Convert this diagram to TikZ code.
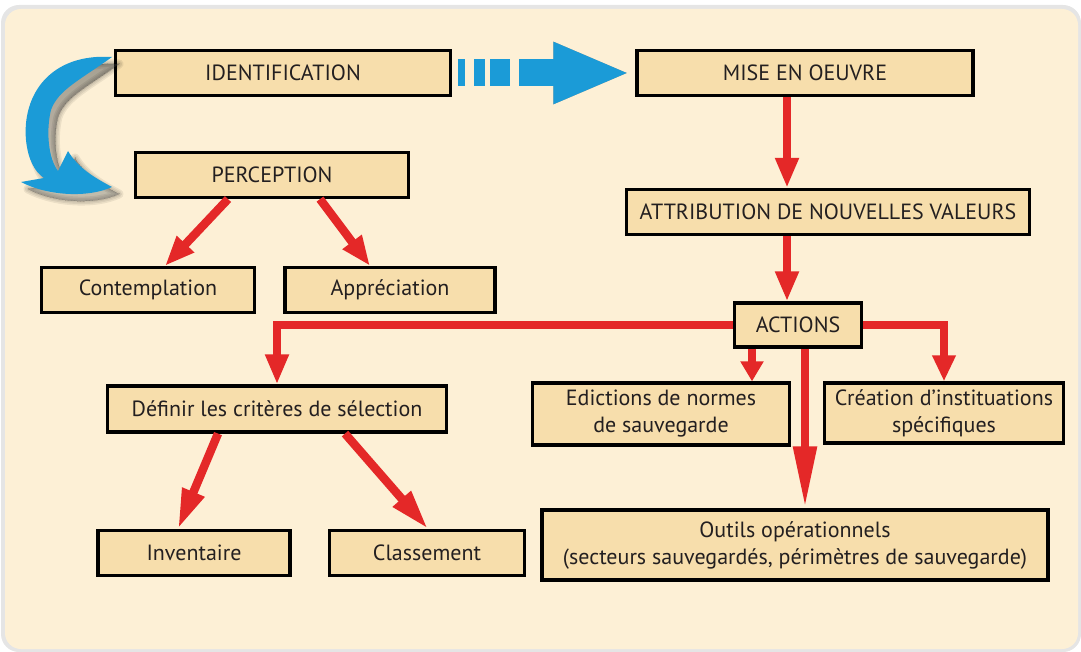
\documentclass[tikz,border=0pt]{standalone}
\usepackage{fontspec}
\setmainfont{PT Sans}
\usetikzlibrary{arrows.meta,positioning}
\definecolor{panel}{RGB}{253,240,214}
\definecolor{boxfill}{RGB}{247,222,172}
\definecolor{arrred}{RGB}{228,40,40}
\definecolor{arrblue}{RGB}{27,155,215}
\definecolor{shade}{RGB}{70,45,25}
\definecolor{txt}{RGB}{35,31,32}
\newcommand{\crescentpath}{(112,57) .. controls (50,53) and (22,95) .. (26,140) .. controls (28,160) and (35,172) .. (44,178) -- (21,182) .. controls (48,196) and (88,198) .. (112,187) .. controls (95,178) and (78,168) .. (68,151) -- (58,171) .. controls (48,158) and (46,130) .. (51,110) .. controls (58,90) and (80,80) .. (112,57) -- cycle}

\begin{document}
\begin{tikzpicture}[x=1pt, y=-1pt,
    box/.style={draw=black, line width=3.2pt, fill=boxfill, text=txt, minimum height=45pt, inner sep=0pt, align=center, font=\fontsize{22}{27}\selectfont},
    redarr/.style={draw=arrred, line width=8.5pt, -{Triangle[length=#1, width=22pt]}},
    redarr/.default=30pt,
    bluedash/.style={draw=arrblue, line width=27pt, dash pattern=on 7pt off 9pt on 11pt off 5pt on 20pt off 9pt on 200pt off 0pt, -{Triangle[length=77pt, width=56pt]}, shorten <=6pt, shorten >=5pt}
]
\useasboundingbox (0,0) rectangle (1081,652);
\fill[black!10, rounded corners=18pt] (1,5) rectangle (1081,652);
\fill[panel, rounded corners=16pt] (5,9) rectangle (1078,649);

% boxes
\node[box, minimum width=335pt] (ident) at (283,73) {IDENTIFICATION};
\node[box, minimum width=336pt] (mise) at (805,73) {MISE EN OEUVRE};
\node[box, minimum width=273pt] (perc) at (272,175) {PERCEPTION};
\node[box, minimum width=403pt] (attr) at (828,212) {ATTRIBUTION DE NOUVELLES VALEURS};
\node[box, minimum width=213pt] (contemp) at (148,290) {Contemplation};
\node[box, minimum width=210pt] (apprec) at (390,290) {Appréciation};
\node[box, minimum width=127pt, minimum height=44pt] (acts) at (798,325) {ACTIONS};
\node[box, minimum width=339pt, minimum height=46pt] (def) at (277,409) {Définir les critères de sélection};
\node[box, minimum width=257pt, minimum height=62pt] (edit) at (661,414) {Edictions de normes\\de sauvegarde};
\node[box, minimum width=239pt, minimum height=60pt] (creat) at (944,413) {Création d’instituations\\spécifiques};
\node[box, minimum width=192pt] (inv) at (194,553) {Inventaire};
\node[box, minimum width=195pt] (cls) at (427,553) {Classement};
\node[box, minimum width=506pt, minimum height=70pt] (outils) at (795,545) {Outils opérationnels\\(secteurs sauvegardés, périmètres de sauvegarde)};

% blue arrows with soft shadow
\foreach \w in {0,3,6,9} {
  \filldraw[shade, opacity=0.07, line width=\w pt, line join=round, shift={(7,7)}] \crescentpath;
  \draw[bluedash, draw=shade, opacity=0.11, shift={(-2,\w)}] (ident.east) -- (mise.west);
}
\fill[arrblue] \crescentpath;
\draw[bluedash] (ident.east) -- (mise.west);

% red arrows
\draw[redarr] ([xshift=-18pt]mise.south) -- ([xshift=-41pt]attr.north);
\draw[redarr] ([xshift=-41pt]attr.south) -- ([xshift=-11pt]acts.north);
\draw[redarr] ([xshift=-44pt]perc.south) -- ([xshift=17pt]contemp.north);
\draw[redarr] ([xshift=48pt]perc.south) -- ([xshift=-20pt]apprec.north);
\draw[redarr] (acts.west) -| (def.north);
\draw[redarr=20pt] ([xshift=-46pt]acts.south) -- ([xshift=-46pt]acts.south |- edit.north);
\draw[redarr=62pt] ([xshift=7pt]acts.south) -- ([xshift=7pt]acts.south |- outils.north);
\draw[redarr=26pt] (acts.east) -| (creat.north);
\draw[redarr=40pt] ([xshift=-59pt]def.south) -- ([xshift=-16pt]inv.north);
\draw[redarr=40pt] ([xshift=68pt]def.south) -- ([xshift=1pt]cls.north);
\end{tikzpicture}
\end{document}
